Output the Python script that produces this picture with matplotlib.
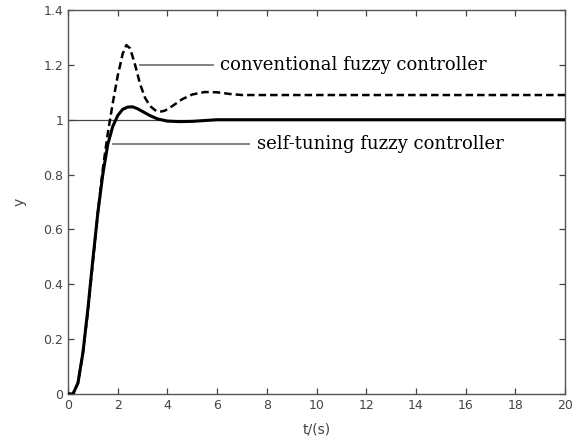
import matplotlib
matplotlib.use("Agg")
import matplotlib.pyplot as plt

# --- data ---
t_conv = [0, 0.2, 0.4, 0.6, 0.8, 1.0, 1.2, 1.4, 1.6, 1.8, 2.0, 2.2, 2.35, 2.5,
          2.7, 2.9, 3.1, 3.3, 3.5, 3.7, 3.9, 4.2, 4.6, 5.0, 5.5, 6.0, 6.5, 7.0, 20]
y_conv = [0, 0, 0.04, 0.15, 0.30, 0.48, 0.66, 0.82, 0.95, 1.06, 1.16, 1.24, 1.272, 1.26,
          1.20, 1.13, 1.08, 1.05, 1.035, 1.029, 1.033, 1.05, 1.075, 1.092, 1.101, 1.10, 1.094, 1.09, 1.09]

t_self = [0, 0.2, 0.4, 0.6, 0.8, 1.0, 1.2, 1.4, 1.6, 1.8, 2.0, 2.2, 2.4, 2.6,
          2.8, 3.0, 3.3, 3.6, 4.0, 4.5, 5.0, 5.5, 6.0, 20]
y_self = [0, 0, 0.04, 0.15, 0.31, 0.49, 0.66, 0.80, 0.91, 0.975, 1.015, 1.038, 1.046, 1.047,
          1.04, 1.03, 1.015, 1.003, 0.995, 0.993, 0.994, 0.997, 1.0, 1.0]

x_ticks = list(range(0, 21, 2))
y_ticks = [0, 0.2, 0.4, 0.6, 0.8, 1.0, 1.2, 1.4]
y_tick_labels = ["0", "0.2", "0.4", "0.6", "0.8", "1", "1.2", "1.4"]

label_conv = "conventional fuzzy controller"
label_self = "self-tuning fuzzy controller"

fig = plt.figure(figsize=(5.78, 4.41), dpi=100)
ax = fig.add_axes([68 / 578, 1 - 394 / 441, 497 / 578, 384 / 441])

ax.axhline(1.0, color="#444444", lw=0.9, zorder=1)
ax.plot(t_conv, y_conv, color="black", lw=1.8, ls=(0, (3.0, 1.6)), zorder=3)
ax.plot(t_self, y_self, color="black", lw=2.2, zorder=3)

# annotation leaders
ax.plot([2.9, 5.85], [1.2, 1.2], color="#777777", lw=1.3)
ax.plot([1.8, 7.3], [0.912, 0.912], color="#777777", lw=1.3)
ax.text(6.1, 1.2, label_conv, family="DejaVu Serif", fontsize=13, va="center", ha="left")
ax.text(7.6, 0.912, label_self, family="DejaVu Serif", fontsize=13, va="center", ha="left")

ax.set_xlim(0, 20)
ax.set_ylim(0, 1.4)
ax.set_xticks(x_ticks)
ax.set_yticks(y_ticks)
ax.set_yticklabels(y_tick_labels)
ax.tick_params(direction="in", top=True, right=True, length=4, width=0.9,
               colors="#444444", labelsize=9, labelcolor="#444444")
for s in ax.spines.values():
    s.set_color("#555555")
    s.set_linewidth(1.0)

ax.set_xlabel("t/(s)", fontsize=10, color="#444444", labelpad=8)
ax.set_ylabel("y", fontsize=10, color="#444444", labelpad=12)

fig.savefig("out.png", dpi=100)
